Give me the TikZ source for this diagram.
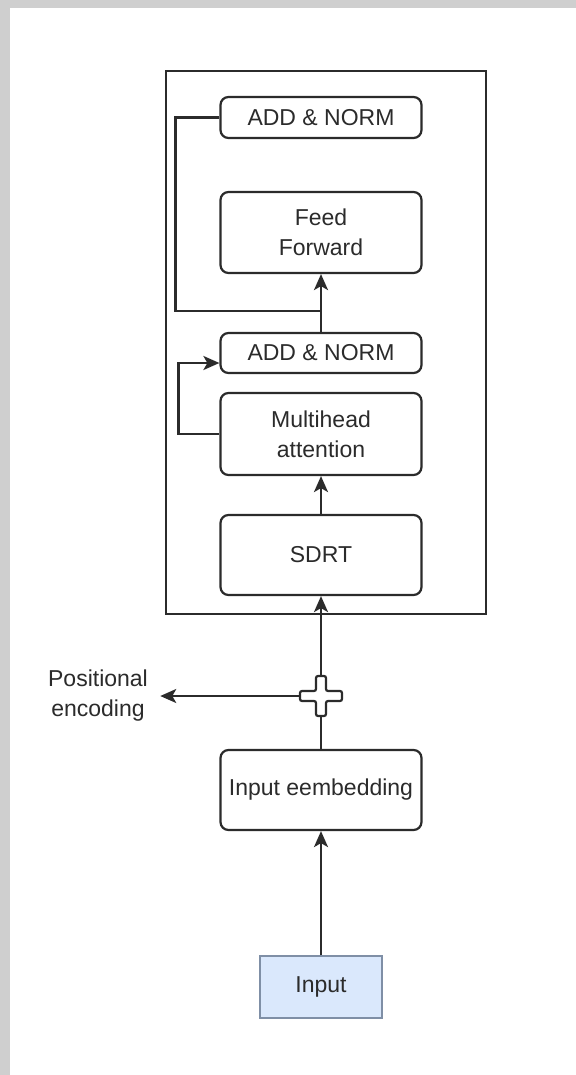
\documentclass[tikz,border=0pt]{standalone}
\usepackage{fontspec}
\setmainfont{Liberation Sans}
\usetikzlibrary{arrows.meta, positioning, calc}

\definecolor{edgegrey}{HTML}{2B2B2B}
\definecolor{inputblue}{HTML}{DAE8FC}
\definecolor{inputedge}{HTML}{7F8FA6}
\definecolor{framegrey}{HTML}{CFCFCF}

\begin{document}
\begin{tikzpicture}[x=0.5pt, y=-0.5pt,
    block/.style={draw=edgegrey, line width=1.1pt, rounded corners=4pt, minimum width=100.5pt, align=center, font=\fontsize{11.5}{15}\selectfont, text=edgegrey, inner sep=0pt},
    flow/.style={draw=edgegrey, line width=1.1pt, -{Stealth[length=8pt, width=7pt, inset=2pt]}},
    link/.style={draw=edgegrey, line width=1.1pt}]

    % Page frame
    \fill[framegrey] (0,0) rectangle (576,1075);
    \fill[white] (10,8) rectangle (576,1075);
    \useasboundingbox (0,0) rectangle (576,1075);

    % Encoder frame
    \node[draw=edgegrey, line width=1.1pt, minimum width=160pt, minimum height=271.5pt, inner sep=0pt] (encoder) at (326,342.5) {};

    % Blocks
    \node[block, minimum height=20.5pt] (addnorm2) at (321,117.5) {ADD \& NORM};
    \node[block, minimum height=40.5pt] (feedfwd) at (321,232.5) {Feed\\Forward};
    \node[block, minimum height=20pt] (addnorm1) at (321,353) {ADD \& NORM};
    \node[block, minimum height=41pt] (mha) at (321,434) {Multihead\\attention};
    \node[block, minimum height=40pt] (sdrt) at (321,555) {SDRT};
    \node[block, minimum height=40pt] (embed) at (321,790) {Input eembedding};
    \node[draw=inputedge, fill=inputblue, line width=0.75pt, minimum width=61pt, minimum height=31pt, inner sep=0pt, font=\fontsize{11.5}{15}\selectfont, text=edgegrey] (input) at (321,987) {Input};

    % Adder
    \node[minimum size=21pt, inner sep=0pt] (plus) at (321,696) {};
    \draw[link, fill=white, rounded corners=1pt] ($(plus.center)+(-21,-5)$) -- ++(16,0) -- ++(0,-15) -- ++(10,0) -- ++(0,15) -- ++(16,0) -- ++(0,10) -- ++(-16,0) -- ++(0,15) -- ++(-10,0) -- ++(0,-15) -- ++(-16,0) -- cycle;
    \node[align=center, font=\fontsize{11.5}{15}\selectfont, text=edgegrey, inner sep=0pt] (posenc) at (98,696) {Positional\\encoding};

    % Main flow
    \draw[flow] (input.north) -- (embed.south);
    \draw[link] (embed.north) -- (plus.south);
    \draw[flow] (plus.west) -- ([xshift=6pt]posenc.east);
    \draw[flow] (plus.north) -- (sdrt.south);
    \draw[flow] (sdrt.north) -- (mha.south);
    \draw[flow] (addnorm1.north) -- (feedfwd.south);

    % Residual connections
    \draw[flow] (mha.west) -- ++(-41,0) |- ([yshift=-5pt]addnorm1.west);
    \coordinate (merge) at (321,311);
    \draw[link] (addnorm2.west) -- ++(-44,0) |- (merge);
\end{tikzpicture}
\end{document}
